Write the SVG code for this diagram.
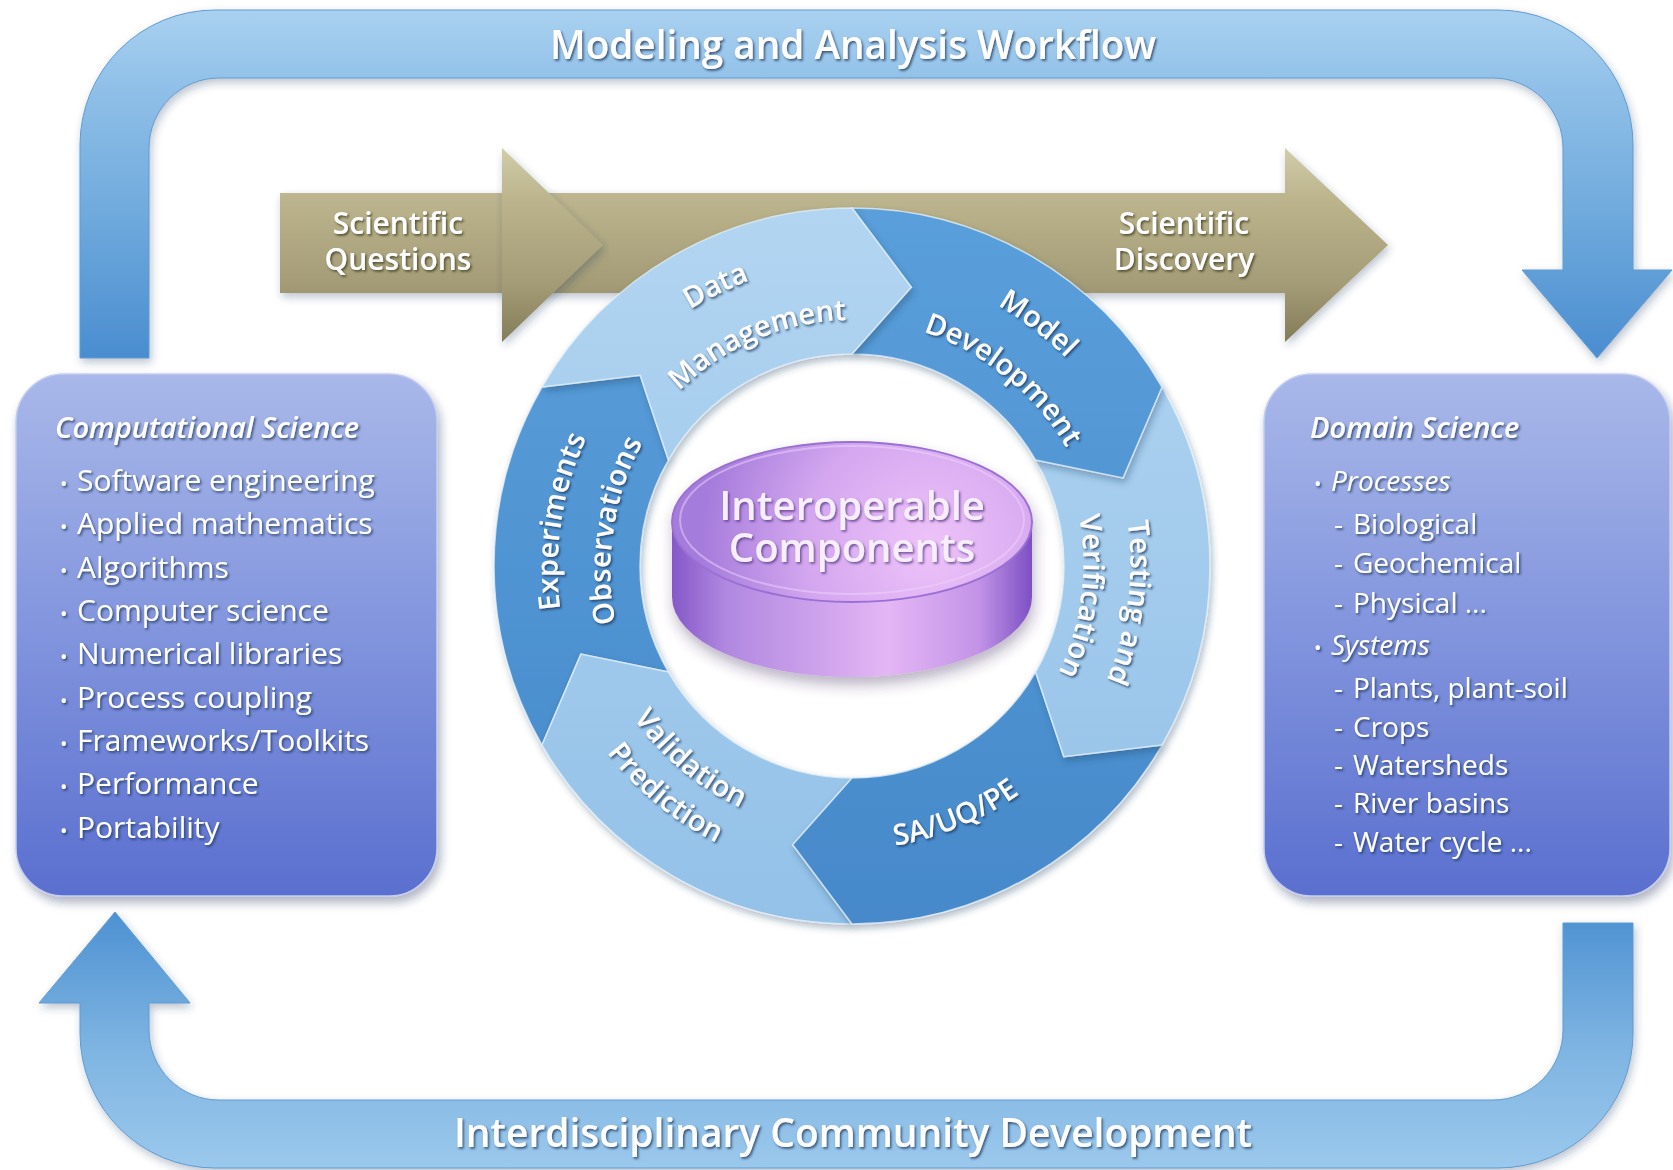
<svg xmlns="http://www.w3.org/2000/svg" width="1673" height="1170" viewBox="0 0 1673 1170">
<defs>
  <style>
    .f { font-family: "Open Sans", "Liberation Sans", sans-serif; fill: #ffffff; }
    .ts { filter: url(#txtSh); }
    .tsg { filter: url(#txtShG); }
    .tsp { filter: url(#txtShP); }
    .big { font-size: 39px; font-weight: 600; }
    .gold { font-size: 30px; font-weight: 600; text-anchor: middle; }
    .hd { font-size: 29px; font-style: italic; font-weight: 600; }
    .li { font-size: 30px; }
    .li2 { font-size: 28px; }
    .bul { font-size: 20px; }
    .rl { font-size: 29px; font-weight: 600; text-anchor: middle; }
    .disk { font-size: 40px; font-weight: 600; text-anchor: middle; fill: #f7eefc; }
    .seg { stroke: #e3f0fb; stroke-width: 1.5; stroke-opacity: 0.75; filter: url(#segSh); }
    .box { stroke: #c2cdf1; stroke-width: 1.5; filter: url(#boxSh); }
    .loop { stroke: #5f9bd3; stroke-width: 1; filter: url(#loopSh); }
  </style>
  <filter id="txtSh" x="-10%" y="-30%" width="120%" height="160%">
    <feDropShadow dx="1.5" dy="1.8" stdDeviation="1" flood-color="#1f3354" flood-opacity="0.75"/>
  </filter>
  <filter id="txtShG" x="-10%" y="-30%" width="120%" height="160%">
    <feDropShadow dx="1.5" dy="1.8" stdDeviation="1" flood-color="#3f3a22" flood-opacity="0.8"/>
  </filter>
  <filter id="txtShP" x="-10%" y="-30%" width="120%" height="160%">
    <feDropShadow dx="1.5" dy="1.8" stdDeviation="1" flood-color="#5a3a86" flood-opacity="0.8"/>
  </filter>
  <filter id="segSh" x="-20%" y="-20%" width="140%" height="140%">
    <feDropShadow dx="2" dy="4" stdDeviation="3.5" flood-color="#1d3a5c" flood-opacity="0.35"/>
  </filter>
  <filter id="boxSh" x="-10%" y="-10%" width="125%" height="125%">
    <feDropShadow dx="3" dy="6" stdDeviation="5" flood-color="#1b2a55" flood-opacity="0.35"/>
  </filter>
  <filter id="loopSh" x="-5%" y="-5%" width="110%" height="115%">
    <feDropShadow dx="2" dy="4" stdDeviation="4" flood-color="#1d3a5c" flood-opacity="0.3"/>
  </filter>
  <filter id="diskSh" x="-20%" y="-20%" width="140%" height="160%">
    <feDropShadow dx="2" dy="8" stdDeviation="7" flood-color="#3b2a5a" flood-opacity="0.35"/>
  </filter>
  <linearGradient id="gLoopTop" x1="0" y1="10" x2="0" y2="358" gradientUnits="userSpaceOnUse">
    <stop offset="0" stop-color="#a9d1f0"/>
    <stop offset="0.22" stop-color="#90c0e8"/>
    <stop offset="0.6" stop-color="#6ea9dd"/>
    <stop offset="1" stop-color="#4a8dd0"/>
  </linearGradient>
  <linearGradient id="gLoopBot" x1="0" y1="912" x2="0" y2="1168" gradientUnits="userSpaceOnUse">
    <stop offset="0" stop-color="#4d91d2"/>
    <stop offset="0.55" stop-color="#7fb5e2"/>
    <stop offset="1" stop-color="#9bc8ec"/>
  </linearGradient>
  <linearGradient id="gGold" x1="0" y1="148" x2="0" y2="342" gradientUnits="userSpaceOnUse">
    <stop offset="0" stop-color="#d2cca9"/>
    <stop offset="0.25" stop-color="#bcb58e"/>
    <stop offset="0.7" stop-color="#a39c76"/>
    <stop offset="1" stop-color="#837c58"/>
  </linearGradient>
  <linearGradient id="gBox" x1="0" y1="0" x2="0" y2="1">
    <stop offset="0" stop-color="#a9b8e9"/>
    <stop offset="0.5" stop-color="#8194dd"/>
    <stop offset="1" stop-color="#5a6fcf"/>
  </linearGradient>
  <linearGradient id="gLight" x1="0" y1="208" x2="0" y2="924" gradientUnits="userSpaceOnUse">
    <stop offset="0" stop-color="#b2d5f1"/>
    <stop offset="1" stop-color="#93c1e8"/>
  </linearGradient>
  <linearGradient id="gDark" x1="0" y1="208" x2="0" y2="924" gradientUnits="userSpaceOnUse">
    <stop offset="0" stop-color="#5a9fdb"/>
    <stop offset="1" stop-color="#4689ca"/>
  </linearGradient>
  <linearGradient id="gDiskSide" x1="672" y1="0" x2="1032" y2="0" gradientUnits="userSpaceOnUse">
    <stop offset="0" stop-color="#8558c8"/>
    <stop offset="0.15" stop-color="#b088e0"/>
    <stop offset="0.6" stop-color="#e4b6f5"/>
    <stop offset="0.85" stop-color="#c394e7"/>
    <stop offset="1" stop-color="#7d50c4"/>
  </linearGradient>
  <radialGradient id="gDiskTop" cx="930" cy="545" r="230" gradientUnits="userSpaceOnUse">
    <stop offset="0" stop-color="#eec3f9"/>
    <stop offset="0.55" stop-color="#d3a6ef"/>
    <stop offset="1" stop-color="#a47bdb"/>
  </radialGradient>
  <path id="pData" d="M984.8,838.3 A303,303 0 1 1 719.2,293.7 A303,303 0 1 1 984.8,838.3"/>
  <path id="pMgmt" d="M948.1,792.5 A246,246 0 1 1 755.9,339.5 A246,246 0 1 1 948.1,792.5"/>
  <path id="pModel" d="M670.6,802.4 A298,298 0 1 1 1033.4,329.6 A298,298 0 1 1 670.6,802.4"/>
  <path id="pDev" d="M699.1,754.8 A243,243 0 1 1 1004.9,377.2 A243,243 0 1 1 699.1,754.8"/>
  <path id="pTest" d="M576.4,529.7 A278,278 0 1 1 1127.6,602.3 A278,278 0 1 1 576.4,529.7"/>
  <path id="pVer" d="M623,535.9 A231,231 0 1 1 1081,596.1 A231,231 0 1 1 623,535.9"/>
  <path id="pExp" d="M1142.6,610.5 A294,294 0 1 1 561.4,521.5 A294,294 0 1 1 1142.6,610.5"/>
  <path id="pObs" d="M1090.3,601.6 A241,241 0 1 1 613.7,530.4 A241,241 0 1 1 1090.3,601.6"/>
  <path id="pSA" d="M743.6,305.7 A282,282 0 1 0 960.4,826.3 A282,282 0 1 0 743.6,305.7"/>
  <path id="pVal" d="M1023,362.2 A266,266 0 1 0 681,769.8 A266,266 0 1 0 1023,362.2"/>
  <path id="pPred" d="M1047.5,328 A308,308 0 1 0 656.5,804 A308,308 0 1 0 1047.5,328"/>
</defs>

<rect x="0" y="0" width="1673" height="1170" fill="#ffffff"/>

<g id="connectors">
  <g id="loop-modeling-workflow">
    <path class="loop" fill="url(#gLoopTop)" d="M80,358 L80,145 A135,135 0 0 1 215,10 L1498,10 A135,135 0 0 1 1633,145 L1633,270 L1672,270 L1597,358 L1522,270 L1563,270 L1563,148 A70,70 0 0 0 1493,78 L219,78 A70,70 0 0 0 149,148 L149,358 Z"/>
    <text class="f big ts" x="853" y="59" text-anchor="middle" textLength="606" lengthAdjust="spacingAndGlyphs">Modeling and Analysis Workflow</text>
  </g>
  <g id="loop-community-development">
    <path class="loop" fill="url(#gLoopBot)" d="M115,912 L190,1003 L149,1003 L149,1030 A70,70 0 0 0 219,1100 L1493,1100 A70,70 0 0 0 1563,1030 L1563,923 L1633,923 L1633,1033 A135,135 0 0 1 1498,1168 L215,1168 A135,135 0 0 1 80,1033 L80,1003 L39,1003 Z"/>
    <text class="f ts" x="853" y="1147" text-anchor="middle" font-size="40" font-weight="600" textLength="798" lengthAdjust="spacingAndGlyphs">Interdisciplinary Community Development</text>
  </g>
</g>

<g id="science-arrow">
  <path fill="url(#gGold)" filter="url(#loopSh)" d="M280,193 L1285,193 L1285,148 L1388,245 L1285,342 L1285,293 L280,293 Z"/>
  <path fill="url(#gGold)" filter="url(#loopSh)" d="M502,148 L603,245 L502,342 Z"/>
  <text class="f gold tsg" x="398" y="234">Scientific</text>
  <text class="f gold tsg" x="398" y="270">Questions</text>
  <text class="f gold tsg" x="1184" y="234">Scientific</text>
  <text class="f gold tsg" x="1184" y="270">Discovery</text>
</g>

<g id="box-computational-science">
  <rect class="box" x="16" y="374" width="421" height="522" rx="48" fill="url(#gBox)"/>
  <text class="f hd ts" x="55" y="438">Computational Science</text>
  <g class="f li ts">
    <text y="491"><tspan class="bul" x="60">•</tspan><tspan x="77">Software engineering</tspan></text>
    <text y="534"><tspan class="bul" x="60">•</tspan><tspan x="77">Applied mathematics</tspan></text>
    <text y="578"><tspan class="bul" x="60">•</tspan><tspan x="77">Algorithms</tspan></text>
    <text y="621"><tspan class="bul" x="60">•</tspan><tspan x="77">Computer science</tspan></text>
    <text y="664"><tspan class="bul" x="60">•</tspan><tspan x="77">Numerical libraries</tspan></text>
    <text y="708"><tspan class="bul" x="60">•</tspan><tspan x="77">Process coupling</tspan></text>
    <text y="751"><tspan class="bul" x="60">•</tspan><tspan x="77">Frameworks/Toolkits</tspan></text>
    <text y="794"><tspan class="bul" x="60">•</tspan><tspan x="77">Performance</tspan></text>
    <text y="838"><tspan class="bul" x="60">•</tspan><tspan x="77">Portability</tspan></text>
  </g>
</g>

<g id="box-domain-science">
  <rect class="box" x="1264" y="374" width="406" height="522" rx="48" fill="url(#gBox)"/>
  <text class="f hd ts" x="1310" y="438">Domain Science</text>
  <g class="f li2 ts">
    <text y="491"><tspan class="bul" x="1314">•</tspan><tspan x="1331" font-style="italic">Processes</tspan></text>
    <text y="534"><tspan x="1334">-</tspan><tspan x="1353">Biological</tspan></text>
    <text y="573"><tspan x="1334">-</tspan><tspan x="1353">Geochemical</tspan></text>
    <text y="613"><tspan x="1334">-</tspan><tspan x="1353">Physical ...</tspan></text>
    <text y="655"><tspan class="bul" x="1314">•</tspan><tspan x="1331" font-style="italic">Systems</tspan></text>
    <text y="698"><tspan x="1334">-</tspan><tspan x="1353">Plants, plant-soil</tspan></text>
    <text y="737"><tspan x="1334">-</tspan><tspan x="1353">Crops</tspan></text>
    <text y="775"><tspan x="1334">-</tspan><tspan x="1353">Watersheds</tspan></text>
    <text y="813"><tspan x="1334">-</tspan><tspan x="1353">River basins</tspan></text>
    <text y="852"><tspan x="1334">-</tspan><tspan x="1353">Water cycle ...</tspan></text>
  </g>
</g>

<g id="cycle">
  <g id="seg-experiments-observations">
    <path class="seg" fill="url(#gDark)" d="M542,745 A358,358 0 0 1 542,387 L640.2,375.3 L668.4,460 A212,212 0 0 0 668.4,672 L580.9,654.1 Z"/>
    <text class="f rl ts"><textPath href="#pExp" startOffset="50%">Experiments</textPath></text>
    <text class="f rl ts"><textPath href="#pObs" startOffset="50%">Observations</textPath></text>
  </g>
  <g id="seg-validation-prediction">
    <path class="seg" fill="url(#gLight)" d="M852,924 A358,358 0 0 1 542,745 L580.9,654.1 L668.4,672 A212,212 0 0 0 852,778 L792.7,844.8 Z"/>
    <text class="f rl ts"><textPath href="#pVal" startOffset="50%">Validation</textPath></text>
    <text class="f rl ts"><textPath href="#pPred" startOffset="50%">Prediction</textPath></text>
  </g>
  <g id="seg-sa-uq-pe">
    <path class="seg" fill="url(#gDark)" d="M1162,745 A358,358 0 0 1 852,924 L792.7,844.8 L852,778 A212,212 0 0 0 1035.6,672 L1063.8,756.7 Z"/>
    <text class="f rl ts"><textPath href="#pSA" startOffset="50%">SA/UQ/PE</textPath></text>
  </g>
  <g id="seg-testing-verification">
    <path class="seg" fill="url(#gLight)" d="M1162,387 A358,358 0 0 1 1162,745 L1063.8,756.7 L1035.6,672 A212,212 0 0 0 1035.6,460 L1123.1,477.9 Z"/>
    <text class="f rl ts"><textPath href="#pTest" startOffset="50%">Testing and</textPath></text>
    <text class="f rl ts"><textPath href="#pVer" startOffset="50%">Verification</textPath></text>
  </g>
  <g id="seg-model-development">
    <path class="seg" fill="url(#gDark)" d="M852,208 A358,358 0 0 1 1162,387 L1123.1,477.9 L1035.6,460 A212,212 0 0 0 852,354 L911.3,287.2 Z"/>
    <text class="f rl ts"><textPath href="#pModel" startOffset="50%">Model</textPath></text>
    <text class="f rl ts"><textPath href="#pDev" startOffset="50%">Development</textPath></text>
  </g>
  <g id="seg-data-management">
    <path class="seg" fill="url(#gLight)" d="M542,387 A358,358 0 0 1 852,208 L911.3,287.2 L852,354 A212,212 0 0 0 668.4,460 L640.2,375.3 Z"/>
    <text class="f rl ts"><textPath href="#pData" startOffset="50%">Data</textPath></text>
    <text class="f rl ts"><textPath href="#pMgmt" startOffset="50%">Management</textPath></text>
  </g>
</g>

<g id="interoperable-components" filter="url(#diskSh)">
  <path fill="url(#gDiskSide)" d="M672,522 L672,597 A180,80 0 0 0 1032,597 L1032,522 Z"/>
  <ellipse cx="852" cy="522" rx="180" ry="80" fill="url(#gDiskTop)" stroke="#9a70d4" stroke-width="2"/>
  <ellipse cx="852" cy="520" rx="172" ry="74" fill="none" stroke="#f0d4fb" stroke-width="2" stroke-opacity="0.5"/>
  <text class="f disk tsp" x="852" y="520">Interoperable</text>
  <text class="f disk tsp" x="852" y="562">Components</text>
</g>
</svg>
